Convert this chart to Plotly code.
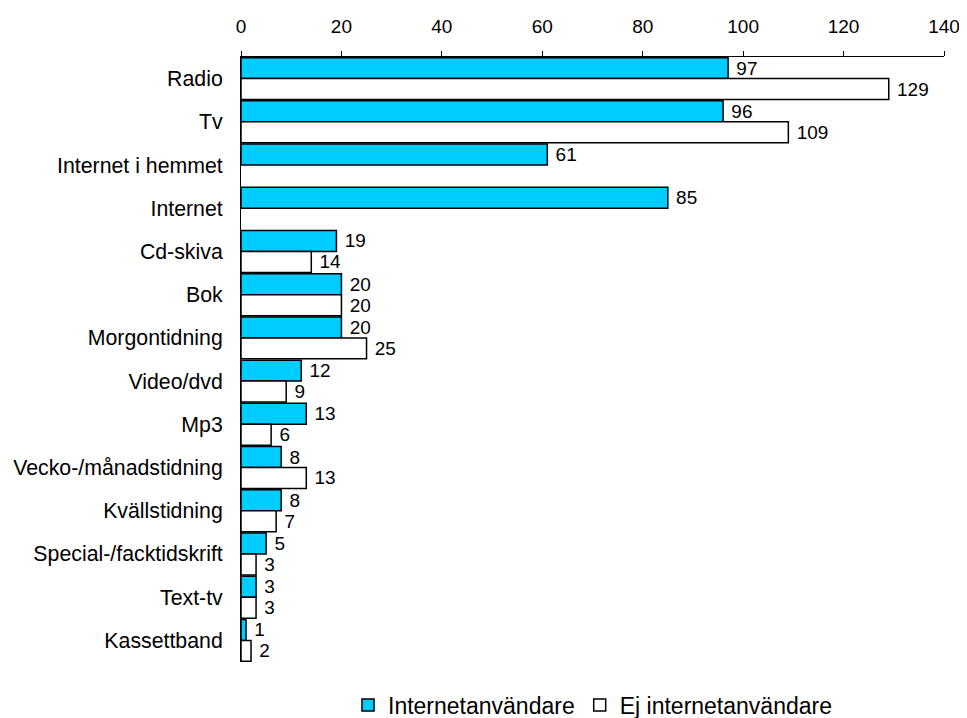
import plotly.graph_objects as go

categories = ["Radio", "Tv", "Internet i hemmet", "Internet", "Cd-skiva", "Bok",
              "Morgontidning", "Video/dvd", "Mp3", "Vecko-/månadstidning",
              "Kvällstidning", "Special-/facktidskrift", "Text-tv", "Kassettband"]
internet_users = [97, 96, 61, 85, 19, 20, 20, 12, 13, 8, 8, 5, 3, 1]
non_users = [129, 109, None, None, 14, 20, 25, 9, 6, 13, 7, 3, 3, 2]
x_ticks = [0, 20, 40, 60, 80, 100, 120, 140]

FAM = "Liberation Sans, Arial, sans-serif"
num_font = dict(family=FAM, size=19, color="black")
cat_font = dict(family=FAM, size=21.3, color="black")

fig = go.Figure()
fig.add_trace(go.Bar(
    y=categories, x=internet_users, orientation="h", name="Internetanvändare",
    marker=dict(color="#00CCFF", line=dict(color="black", width=1.5)),
    text=[" " + str(v) for v in internet_users], textposition="outside",
    textfont=num_font, cliponaxis=False,
))
fig.add_trace(go.Bar(
    y=categories, x=non_users, orientation="h", name="Ej internetanvändare",
    marker=dict(color="white", line=dict(color="black", width=1.5)),
    text=[("" if v is None else " " + str(v)) for v in non_users], textposition="outside",
    textfont=num_font, cliponaxis=False,
))

fig.update_layout(
    width=959, height=710,
    margin=dict(l=233, r=23, t=49, b=56, autoexpand=False),
    paper_bgcolor="white", plot_bgcolor="white",
    font=num_font,
    barmode="group", bargap=0.03, bargroupgap=0,
    xaxis=dict(side="top", range=[0, 140], tickvals=x_ticks, showgrid=False,
               zeroline=False, showline=True, linecolor="black", linewidth=1,
               ticks="outside", ticklen=5, tickcolor="black", tickfont=num_font,
               ticklabelstandoff=10, fixedrange=True),
    yaxis=dict(autorange="reversed", showgrid=False, zeroline=False,
               showline=True, linecolor="black", linewidth=1, ticks="",
               ticklabelstandoff=13, tickfont=cat_font),
    legend=dict(orientation="h", x=0.5, xanchor="center", y=-0.071, yanchor="middle",
                traceorder="normal", font=dict(family=FAM, size=23, color="black"),
                itemwidth=30),
    showlegend=True,
)

fig.write_html("out.html")
